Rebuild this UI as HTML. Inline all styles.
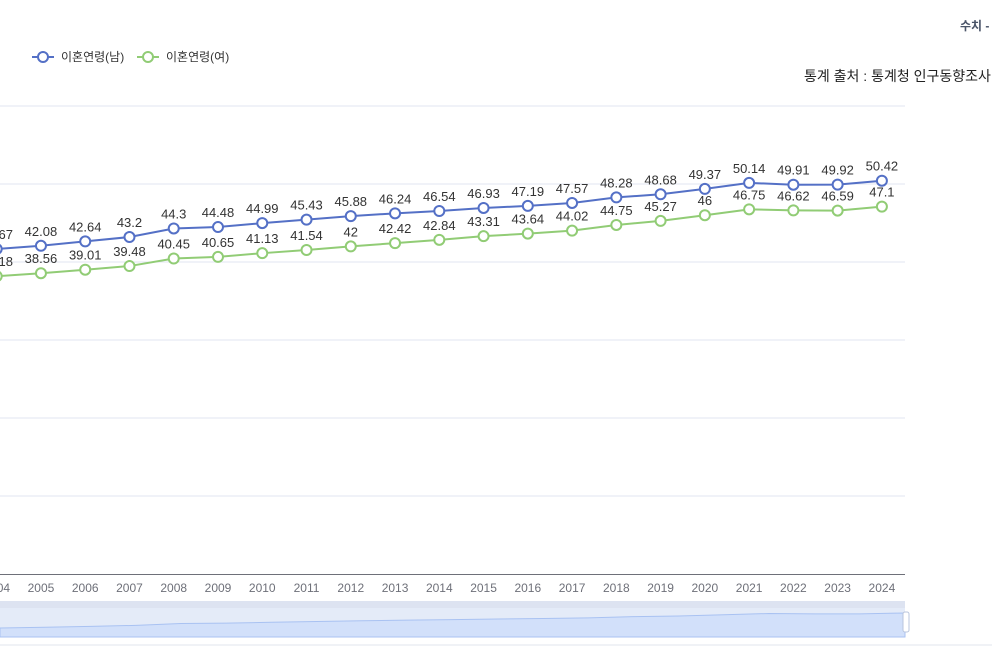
<!DOCTYPE html>
<html><head><meta charset="utf-8">
<style>
body{margin:0;background:#fff;width:992px;height:648px;overflow:hidden;font-family:"Liberation Sans","Noto Sans CJK KR",sans-serif;}
svg{position:absolute;left:0;top:0}
</style></head>
<body>
<svg id="chart" width="992" height="648" font-family="Liberation Sans, Noto Sans CJK KR, sans-serif">
  <text x="960" y="30" font-size="12" font-weight="bold" fill="#4a5468">수치 -</text>
  <text x="804" y="81" font-size="14" fill="#222">통계 출처 : 통계청 인구동향조사</text>
  <g>
    <g>
      <line x1="32" y1="57" x2="54" y2="57" stroke="#5470c6" stroke-width="2"/>
      <circle cx="43" cy="57" r="5" fill="#fff" stroke="#5470c6" stroke-width="2"/>
      <text x="61" y="61" font-size="12" fill="#333">이혼연령(남)</text>
    </g>
    <g>
      <line x1="137" y1="57" x2="159" y2="57" stroke="#91cc75" stroke-width="2"/>
      <circle cx="148" cy="57" r="5" fill="#fff" stroke="#91cc75" stroke-width="2"/>
      <text x="166" y="61" font-size="12" fill="#333">이혼연령(여)</text>
    </g>
  </g>
  <g id="grid"></g><g id="xaxis"></g><g id="series"></g>
  <g>
    <rect x="0" y="601" width="905" height="36" fill="#e4ebf8"/>
    <rect x="0" y="601" width="905" height="7" fill="#dde3f1"/>
    <path id="zoomArea" fill="#d2e0fa" stroke="#a9c2f2" stroke-width="1"/>
    <rect x="903" y="612" width="6" height="20" rx="2" fill="#fff" stroke="#b8c4dc"/>
    <line x1="0" y1="645" x2="992" y2="645" stroke="#e2e4ec"/>
  </g>
</svg>
<script>
const years=[2004,2005,2006,2007,2008,2009,2010,2011,2012,2013,2014,2015,2016,2017,2018,2019,2020,2021,2022,2023,2024];
const male=[41.67,42.08,42.64,43.2,44.3,44.48,44.99,45.43,45.88,46.24,46.54,46.93,47.19,47.57,48.28,48.68,49.37,50.14,49.91,49.92,50.42];
const female=[38.18,38.56,39.01,39.48,40.45,40.65,41.13,41.54,42,42.42,42.84,43.31,43.64,44.02,44.75,45.27,46,46.75,46.62,46.59,47.1];
const yTicks=[0,10,20,30,40,50,60];
const NS="http://www.w3.org/2000/svg";
const X=i=>-3.3+i*44.26, Y=v=>574-v*7.8;
function mk(t,a,p){const e=document.createElementNS(NS,t);for(const k in a)e.setAttribute(k,a[k]);p.appendChild(e);return e;}
const grid=document.getElementById('grid');
yTicks.forEach(v=>{if(v===0)return;const l=mk('line',{x1:0,x2:905,y1:Y(v),y2:Y(v),stroke:'#e0e6f1'},grid);

});
const xa=document.getElementById('xaxis');
const ax=mk('line',{x1:0,x2:905,y1:574.5,y2:574.5,stroke:'#6e7079'},xa);


years.forEach((y,i)=>{const t=mk('text',{x:X(i),y:592,'font-size':12,fill:'#6e7079','text-anchor':'middle'},xa);t.textContent=y;

});
const sg=document.getElementById('series');
[[male,'#5470c6','male'],[female,'#91cc75','female']].forEach(([d,c,n])=>{
 const p=mk('polyline',{points:d.map((v,i)=>X(i)+','+Y(v)).join(' '),fill:'none',stroke:c,'stroke-width':2},sg);
 
 
 d.forEach((v,i)=>{
  const m=mk('circle',{cx:X(i),cy:Y(v),r:5,fill:'#fff',stroke:c,'stroke-width':2},sg);
  
  
  const t=mk('text',{x:X(i),y:Y(v)-10,'font-size':13,fill:'#333','text-anchor':'middle'},sg);t.textContent=v;
  
  
 });
});
const mn=Math.min(...male), mx=Math.max(...male);
const zx=i=>i*905/(years.length-1), zy=v=>628-(v-mn)/(mx-mn)*15;
let dpath='M0,637 '+male.map((v,i)=>'L'+zx(i)+','+zy(v)).join(' ')+' L905,637 Z';
document.getElementById('zoomArea').setAttribute('d',dpath);
</script>
</body></html>
